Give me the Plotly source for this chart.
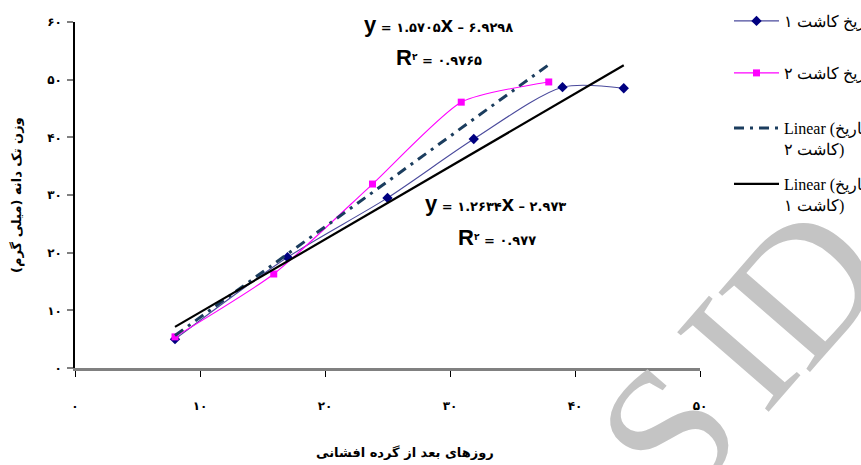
import plotly.graph_objects as go

# ---- data ----
days_1 = [8, 17, 25, 31.9, 39, 43.9]
weight_1 = [5.0, 19.2, 29.5, 39.7, 48.7, 48.5]
days_2 = [8, 15.9, 23.8, 30.9, 37.9]
weight_2 = [5.4, 16.3, 31.9, 46.1, 49.6]

# trend-line coefficients (from chart text)
slope_1, intercept_1 = 1.2634, -2.973
slope_2, intercept_2 = 1.5705, -6.9298

name_1 = "تاریخ کاشت ۱"
name_2 = "تاریخ کاشت ۲"
name_t2 = "Linear (تاریخ<br>کاشت ۲)"
name_t1 = "Linear (تاریخ<br>کاشت ۱)"

x_ticks = [0, 10, 20, 30, 40, 50]
x_tick_text = ["۰", "۱۰", "۲۰", "۳۰", "۴۰", "۵۰"]
y_ticks = [0, 10, 20, 30, 40, 50, 60]
y_tick_text = ["۰", "۱۰", "۲۰", "۳۰", "۴۰", "۵۰", "۶۰"]

x_title = "روزهای بعد از گرده افشانی"
y_title = "وزن تک دانه (میلی گرم)\u200f"

# ---- geometry helpers (pixel -> paper) ----
L, R, T, B = 75, 700, 22, 368
W, H = 861, 465
def px(x):
    return (x - L) / (R - L)
def py(y):
    return (B - y) / (B - T)

t1_x = [min(days_1), max(days_1)]
t1_y = [slope_1 * v + intercept_1 for v in t1_x]
t2_x = [min(days_2), max(days_2)]
t2_y = [slope_2 * v + intercept_2 for v in t2_x]

fig = go.Figure()
fig.add_trace(go.Scatter(
    x=days_1, y=weight_1, name=name_1, mode="lines+markers",
    line=dict(color="#4a4a9c", width=1.1, shape="spline", smoothing=0.8),
    marker=dict(symbol="diamond", size=8, color="#000080"),
    legend="legend"))
fig.add_trace(go.Scatter(
    x=days_2, y=weight_2, name=name_2, mode="lines+markers",
    line=dict(color="#ff00ff", width=1.1, shape="spline", smoothing=0.6),
    marker=dict(symbol="square", size=7, color="#ff00ff"),
    legend="legend2"))
fig.add_trace(go.Scatter(
    x=t2_x, y=t2_y, name=name_t2, mode="lines",
    line=dict(color="#1b3d5e", width=3, dash="10px,6px,3px,6px"),
    legend="legend3"))
fig.add_trace(go.Scatter(
    x=t1_x, y=t1_y, name=name_t1, mode="lines",
    line=dict(color="#000000", width=2.2),
    legend="legend4"))

leg_font = dict(family="Liberation Serif, DejaVu Serif, serif", size=16, color="#000")
leg_common = dict(xanchor="left", font=leg_font, bgcolor="rgba(0,0,0,0)",
                  itemwidth=45, valign="top", borderwidth=0)
lx = px(729)

ann = []
def eq(text_parts, x, y):
    ann.append(dict(xref="paper", yref="paper", x=px(x), y=py(y), text=text_parts,
                    showarrow=False, xanchor="center", yanchor="middle",
                    font=dict(family="DejaVu Sans", size=13, color="#000", weight="bold")))

# watermark (scan artefact in reference) - drawn first so it sits beneath
wm_font = dict(family="Liberation Serif, serif", size=185, color="#c4c4c4")
for ch, cx, cy in [("S", 668, 432), ("I", 737, 352), ("D", 803, 284)]:
    ann.append(dict(xref="paper", yref="paper", x=px(cx), y=py(cy), text=ch,
                    showarrow=False, xanchor="center", yanchor="middle", textangle=-49,
                    font=wm_font))

big = "<span style='font-family:Liberation Sans, Arial; font-size:22px; font-weight:bold'>%s</span>"
eq(big % "y" + " = ۱.۵۷۰۵" + big % "x" + " – ۶.۹۲۹۸", 438, 24)
eq(big % "R" + "<sup>۲</sup> = ۰.۹۷۶۵", 439, 57)
eq(big % "y" + " = ۱.۲۶۳۴" + big % "x" + " – ۲.۹۷۳", 495, 203)
eq(big % "R" + "<sup>۲</sup> = ۰.۹۷۷", 497, 237)

# axis titles
ann.append(dict(xref="paper", yref="paper", x=px(405), y=py(452), text=x_title,
                showarrow=False, xanchor="center", yanchor="middle",
                font=dict(family="DejaVu Sans", size=13, color="#000", weight="bold")))
ann.append(dict(xref="paper", yref="paper", x=px(17), y=py(195), text=y_title,
                showarrow=False, xanchor="center", yanchor="middle", textangle=-90,
                font=dict(family="DejaVu Sans", size=13, color="#000", weight="bold")))

fig.update_layout(
    width=W, height=H,
    margin=dict(l=L, r=W - R, t=T, b=H - B, autoexpand=False),
    paper_bgcolor="white", plot_bgcolor="white",
    showlegend=True,
    legend=dict(x=lx, y=py(4), yanchor="top", **leg_common),
    legend2=dict(x=lx, y=py(56), yanchor="top", **leg_common),
    legend3=dict(x=lx, y=py(111), yanchor="top", **leg_common),
    legend4=dict(x=lx, y=py(167), yanchor="top", **leg_common),
    xaxis=dict(range=[0, 50], tickvals=x_ticks, ticktext=x_tick_text,
               showline=True, linecolor="#808080", linewidth=2.5,
               ticks="outside", ticklen=6, tickcolor="#000", tickwidth=1,
               showgrid=False, zeroline=False, ticklabelstandoff=19,
               tickfont=dict(family="DejaVu Sans", size=12, color="#000", weight="bold")),
    yaxis=dict(range=[0, 60], tickvals=y_ticks, ticktext=y_tick_text,
               showline=True, linecolor="#000", linewidth=1.5,
               ticks="outside", ticklen=6, tickcolor="#808080", tickwidth=1.5,
               showgrid=False, zeroline=False, ticklabelstandoff=3,
               tickfont=dict(family="DejaVu Sans", size=12, color="#000", weight="bold")),
    annotations=ann,
)

fig.write_html("out.html", config={"displayModeBar": False},
               post_script="document.body.style.margin='0';")
